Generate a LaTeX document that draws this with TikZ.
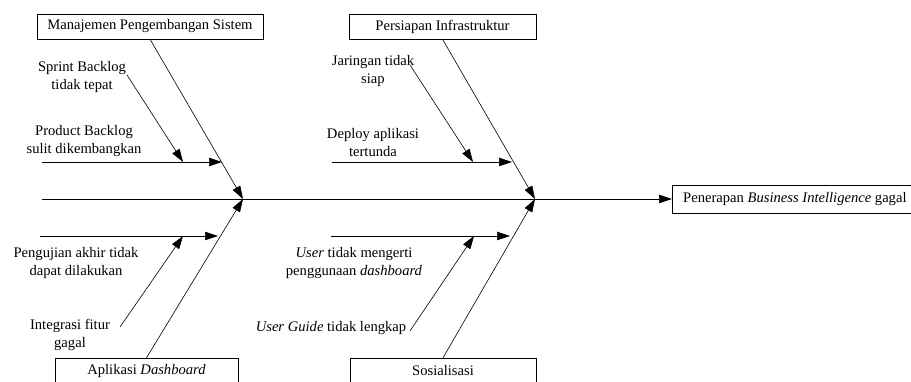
\documentclass[tikz,border=0pt]{standalone}
\usepackage{fontspec}
\setmainfont{Liberation Serif}
\usetikzlibrary{arrows.meta}

\tikzset{
    catbox/.style={draw, minimum height=25, inner sep=0.75pt, font=\fontsize{14.6}{18}\selectfont},
    causetext/.style={align=center, inner sep=0.75pt, font=\fontsize{14.6}{18}\selectfont},
    bone/.style={-{Triangle[length=13pt,width=8.5pt]}, line width=0.6pt},
}

\begin{document}
\begin{tikzpicture}[x=1pt,y=1pt,yscale=-1,xscale=1]
    \useasboundingbox (0,0) rectangle (911,382);

    % Category boxes
    \node [catbox, minimum width=226] (mps) at (150,26.5) {Manajemen Pengembangan Sistem};
    \node [catbox, minimum width=187] (pin) at (442.5,26.5) {Persiapan Infrastruktur};
    \node [catbox, minimum width=183] (adb) at (146.5,370.5) {Aplikasi \textit{Dashboard}};
    \node [catbox, minimum width=186] (sos) at (443,370.5) {Sosialisasi};
    % Result box
    \node [catbox, anchor=west, minimum height=28, inner xsep=11pt] (res) at (672,199) {Penerapan \textit{Business Intelligence} gagal};

    % Spine points
    \coordinate (s0) at (42,199);
    \coordinate (j1) at (243,199);
    \coordinate (j2) at (535,199);
    % Sub bones
    \coordinate (a0) at (42,162);   \coordinate (a1) at (222,162);  \coordinate (a2) at (183,162);
    \coordinate (b0) at (332,162);  \coordinate (b1) at (512,162);  \coordinate (b2) at (473,162);
    \coordinate (c0) at (40,236);   \coordinate (c1) at (218,236);  \coordinate (c2) at (183,236);
    \coordinate (d0) at (331,236);  \coordinate (d1) at (510,236);  \coordinate (d2) at (474,236);
    % Starts of small arrows
    \coordinate (sb) at (127,75);
    \coordinate (jt) at (410,65);
    \coordinate (ig) at (120,327);
    \coordinate (ug) at (410,331);

    % Text Node
    \node [causetext] (t1) at (82,77) {Sprint Backlog\\tidak tepat};
    \node [causetext] (t2) at (84,141) {Product Backlog\\sulit dikembangkan};
    \node [causetext] (t3) at (373,71) {Jaringan tidak\\siap};
    \node [causetext] (t4) at (373,143) {Deploy aplikasi\\tertunda};
    \node [causetext] (t5) at (76,263) {Pengujian akhir tidak\\dapat dilakukan};
    \node [causetext] (t6) at (70,335) {Integrasi fitur\\gagal};
    \node [causetext] (t7) at (354,263) {\textit{User} tidak mengerti\\penggunaan \textit{dashboard}};
    \node [causetext] (t8) at (331,328) {\textit{User Guide} tidak lengkap};

    %Straight Lines
    \draw [bone] (s0) -- (res.west);
    \draw [bone] (mps.south) -- (j1);
    \draw [bone] (adb.north) -- (j1);
    \draw [bone] (pin.south) -- (j2);
    \draw [bone] (sos.north) -- (j2);
    \draw [bone] (a0) -- (a1);
    \draw [bone] (b0) -- (b1);
    \draw [bone] (c0) -- (c1);
    \draw [bone] (d0) -- (d1);
    \draw [bone] (sb) -- (a2);
    \draw [bone] (jt) -- (b2);
    \draw [bone] (ig) -- (c2);
    \draw [bone] (ug) -- (d2);

\end{tikzpicture}
\end{document}
